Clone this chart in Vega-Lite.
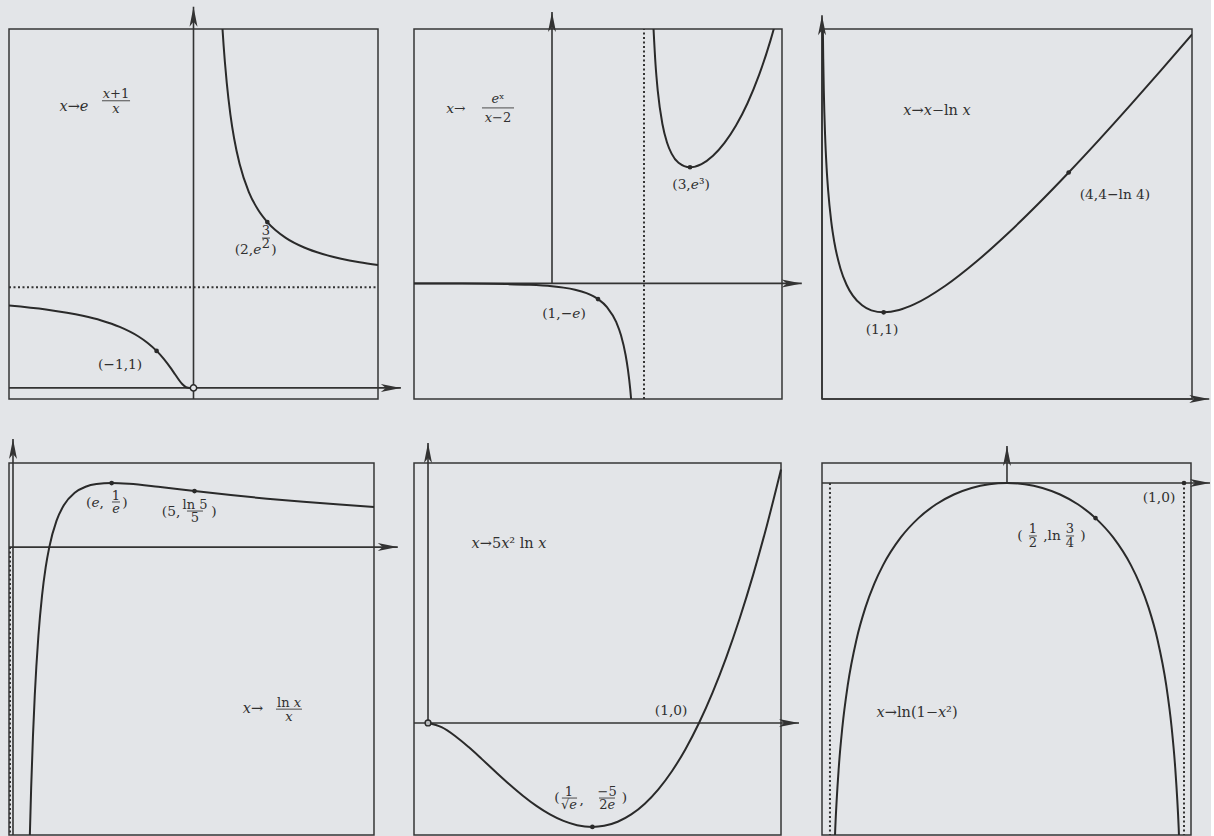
{
  "$schema": "https://vega.github.io/schema/vega-lite/v6.json",
  "background": "#e3e5e8",
  "padding": {"left": 8, "top": 5, "right": 0, "bottom": 0},
  "config": {
    "view": {"stroke": null, "fill": null},
    "text": {"font": "DejaVu Serif"}
  },
  "datasets": {
    "p1": [
      {"k": "frame", "x": -5, "x2": 5, "y": -0.3, "y2": 9.7},
      {"k": "axis", "x": 0, "y": -0.3, "x2": 0, "y2": 10.3},
      {"k": "axis", "x": -5, "y": 0, "x2": 5.62, "y2": 0},
      {"k": "asym", "x": -5, "y": 2.718, "x2": 5, "y2": 2.718},
      {"k": "arrow", "d": "up", "x": 0, "y": 10.3},
      {"k": "arrow", "d": "right", "x": 5.62, "y": 0},
      {"k": "curve", "b": 1, "x": -5, "y": 2.2255},
      {"k": "curve", "b": 1, "x": -4, "y": 2.117},
      {"k": "curve", "b": 1, "x": -3, "y": 1.9477},
      {"k": "curve", "b": 1, "x": -2.5, "y": 1.8221},
      {"k": "curve", "b": 1, "x": -2, "y": 1.6487},
      {"k": "curve", "b": 1, "x": -1.5, "y": 1.3956},
      {"k": "curve", "b": 1, "x": -1.25, "y": 1.2214},
      {"k": "curve", "b": 1, "x": -1, "y": 1},
      {"k": "curve", "b": 1, "x": -0.8, "y": 0.7788},
      {"k": "curve", "b": 1, "x": -0.6, "y": 0.5134},
      {"k": "curve", "b": 1, "x": -0.5, "y": 0.3679},
      {"k": "curve", "b": 1, "x": -0.4, "y": 0.2231},
      {"k": "curve", "b": 1, "x": -0.3, "y": 0.097},
      {"k": "curve", "b": 1, "x": -0.2, "y": 0.0183},
      {"k": "curve", "b": 1, "x": -0.1, "y": 0.0001},
      {"k": "curve", "b": 1, "x": 0, "y": 0},
      {"k": "curve", "b": 2, "x": 0.75, "y": 10.312},
      {"k": "curve", "b": 2, "x": 0.786, "y": 9.7},
      {"k": "curve", "b": 2, "x": 0.85, "y": 8.815},
      {"k": "curve", "b": 2, "x": 0.9, "y": 8.257},
      {"k": "curve", "b": 2, "x": 1, "y": 7.389},
      {"k": "curve", "b": 2, "x": 1.1, "y": 6.747},
      {"k": "curve", "b": 2, "x": 1.25, "y": 6.05},
      {"k": "curve", "b": 2, "x": 1.5, "y": 5.294},
      {"k": "curve", "b": 2, "x": 1.75, "y": 4.813},
      {"k": "curve", "b": 2, "x": 2, "y": 4.4817},
      {"k": "curve", "b": 2, "x": 2.5, "y": 4.055},
      {"k": "curve", "b": 2, "x": 3, "y": 3.7937},
      {"k": "curve", "b": 2, "x": 3.5, "y": 3.617},
      {"k": "curve", "b": 2, "x": 4, "y": 3.4903},
      {"k": "curve", "b": 2, "x": 4.5, "y": 3.3947},
      {"k": "curve", "b": 2, "x": 5, "y": 3.3201},
      {"k": "dot", "x": -1, "y": 1},
      {"k": "dot", "x": 2, "y": 4.4817},
      {"k": "open", "x": 0, "y": 0},
      {"k": "text", "r": "t", "t": "𝑥→𝑒", "x": -3.24, "y": 7.59},
      {"k": "text", "r": "s", "t": "𝑥+1", "x": -2.1, "y": 7.95},
      {"k": "bar", "x": -2.48, "x2": -1.72, "y": 7.76},
      {"k": "text", "r": "s", "t": "𝑥", "x": -2.1, "y": 7.54},
      {"k": "text", "r": "m", "t": "(−1,1)", "x": -1.99, "y": 0.62},
      {"k": "text", "r": "m", "t": "(2,𝑒", "x": 1.477, "y": 3.73},
      {"k": "text", "r": "s", "t": "3", "x": 1.965, "y": 4.23},
      {"k": "bar", "x": 1.856, "x2": 2.073, "y": 4.05},
      {"k": "text", "r": "s", "t": "2", "x": 1.965, "y": 3.88},
      {"k": "text", "r": "m", "t": ")", "x": 2.18, "y": 3.73}
    ],
    "p2": [
      {"k": "frame", "x": -3, "x2": 5, "y": -20, "y2": 44},
      {"k": "axis", "x": 0, "y": 0, "x2": 0, "y2": 46.95},
      {"k": "axis", "x": -3, "y": 0, "x2": 5.43, "y2": 0},
      {"k": "asym", "x": 2, "y": -20, "x2": 2, "y2": 44},
      {"k": "arrow", "d": "up", "x": 0, "y": 46.95},
      {"k": "arrow", "d": "right", "x": 5.43, "y": 0},
      {"k": "curve", "b": 1, "x": -3, "y": -0.00996},
      {"k": "curve", "b": 1, "x": -2, "y": -0.0338},
      {"k": "curve", "b": 1, "x": -1, "y": -0.1226},
      {"k": "curve", "b": 1, "x": -0.5, "y": -0.2426},
      {"k": "curve", "b": 1, "x": 0, "y": -0.5},
      {"k": "curve", "b": 1, "x": 0.25, "y": -0.7337},
      {"k": "curve", "b": 1, "x": 0.5, "y": -1.0991},
      {"k": "curve", "b": 1, "x": 0.75, "y": -1.6936},
      {"k": "curve", "b": 1, "x": 1, "y": -2.7183},
      {"k": "curve", "b": 1, "x": 1.2, "y": -4.15},
      {"k": "curve", "b": 1, "x": 1.4, "y": -6.759},
      {"k": "curve", "b": 1, "x": 1.5, "y": -8.963},
      {"k": "curve", "b": 1, "x": 1.6, "y": -12.383},
      {"k": "curve", "b": 1, "x": 1.65, "y": -14.877},
      {"k": "curve", "b": 1, "x": 1.7, "y": -18.246},
      {"k": "curve", "b": 1, "x": 1.75, "y": -23.02},
      {"k": "curve", "b": 2, "x": 2.2, "y": 45.13},
      {"k": "curve", "b": 2, "x": 2.25, "y": 37.95},
      {"k": "curve", "b": 2, "x": 2.3, "y": 33.25},
      {"k": "curve", "b": 2, "x": 2.4, "y": 27.56},
      {"k": "curve", "b": 2, "x": 2.5, "y": 24.365},
      {"k": "curve", "b": 2, "x": 2.6, "y": 22.44},
      {"k": "curve", "b": 2, "x": 2.75, "y": 20.857},
      {"k": "curve", "b": 2, "x": 3, "y": 20.0855},
      {"k": "curve", "b": 2, "x": 3.25, "y": 20.63},
      {"k": "curve", "b": 2, "x": 3.5, "y": 22.077},
      {"k": "curve", "b": 2, "x": 3.75, "y": 24.298},
      {"k": "curve", "b": 2, "x": 4, "y": 27.299},
      {"k": "curve", "b": 2, "x": 4.25, "y": 31.158},
      {"k": "curve", "b": 2, "x": 4.5, "y": 36.007},
      {"k": "curve", "b": 2, "x": 4.75, "y": 42.03},
      {"k": "curve", "b": 2, "x": 4.85, "y": 44.82},
      {"k": "dot", "x": 1, "y": -2.7183},
      {"k": "dot", "x": 3, "y": 20.0855},
      {"k": "text", "r": "m", "t": "𝑥→", "x": -2.087, "y": 30.17},
      {"k": "text", "r": "s", "t": "𝑒ˣ", "x": -1.174, "y": 31.9},
      {"k": "bar", "x": -1.522, "x2": -0.826, "y": 30.35},
      {"k": "text", "r": "s", "t": "𝑥−2", "x": -1.174, "y": 28.61},
      {"k": "text", "r": "m", "t": "(1,−𝑒)", "x": 0.261, "y": -5.29},
      {"k": "text", "r": "m", "t": "(3,𝑒³)", "x": 3.022, "y": 17.02}
    ],
    "p3": [
      {"k": "frame", "x": 0, "x2": 6, "y": 0, "y2": 4.27},
      {"k": "axis", "x": 0, "y": 0, "x2": 0, "y2": 4.43},
      {"k": "axis", "x": 0, "y": 0, "x2": 6.28, "y2": 0},
      {"k": "arrow", "d": "up", "x": 0, "y": 4.43},
      {"k": "arrow", "d": "right", "x": 6.28, "y": 0},
      {"k": "curve", "b": 1, "x": 0.012, "y": 4.435},
      {"k": "curve", "b": 1, "x": 0.015, "y": 4.215},
      {"k": "curve", "b": 1, "x": 0.02, "y": 3.932},
      {"k": "curve", "b": 1, "x": 0.03, "y": 3.537},
      {"k": "curve", "b": 1, "x": 0.05, "y": 3.046},
      {"k": "curve", "b": 1, "x": 0.075, "y": 2.665},
      {"k": "curve", "b": 1, "x": 0.1, "y": 2.403},
      {"k": "curve", "b": 1, "x": 0.15, "y": 2.047},
      {"k": "curve", "b": 1, "x": 0.2, "y": 1.809},
      {"k": "curve", "b": 1, "x": 0.3, "y": 1.504},
      {"k": "curve", "b": 1, "x": 0.4, "y": 1.316},
      {"k": "curve", "b": 1, "x": 0.5, "y": 1.193},
      {"k": "curve", "b": 1, "x": 0.65, "y": 1.081},
      {"k": "curve", "b": 1, "x": 0.8, "y": 1.023},
      {"k": "curve", "b": 1, "x": 1, "y": 1},
      {"k": "curve", "b": 1, "x": 1.25, "y": 1.027},
      {"k": "curve", "b": 1, "x": 1.5, "y": 1.0945},
      {"k": "curve", "b": 1, "x": 2, "y": 1.3069},
      {"k": "curve", "b": 1, "x": 2.5, "y": 1.5837},
      {"k": "curve", "b": 1, "x": 3, "y": 1.9014},
      {"k": "curve", "b": 1, "x": 3.5, "y": 2.2472},
      {"k": "curve", "b": 1, "x": 4, "y": 2.6137},
      {"k": "curve", "b": 1, "x": 4.5, "y": 2.9959},
      {"k": "curve", "b": 1, "x": 5, "y": 3.3906},
      {"k": "curve", "b": 1, "x": 5.5, "y": 3.7953},
      {"k": "curve", "b": 1, "x": 6, "y": 4.2082},
      {"k": "dot", "x": 1, "y": 1},
      {"k": "dot", "x": 4, "y": 2.6137},
      {"k": "text", "r": "t", "t": "𝑥→𝑥−ln 𝑥", "x": 1.865, "y": 3.324},
      {"k": "text", "r": "m", "t": "(1,1)", "x": 0.973, "y": 0.796},
      {"k": "text", "r": "m", "t": "(4,4−ln 4)", "x": 4.751, "y": 2.354}
    ],
    "p4": [
      {"k": "frame", "x": -0.11, "x2": 9.945, "y": -1.654, "y2": 0.483},
      {"k": "axis", "x": 0, "y": -1.654, "x2": 0, "y2": 0.621},
      {"k": "axis", "x": -0.11, "y": 0, "x2": 10.6, "y2": 0},
      {"k": "asym", "x": 0, "y": 0, "x2": 0, "y2": -1.654},
      {"k": "arrow", "d": "up", "x": 0, "y": 0.621},
      {"k": "arrow", "d": "right", "x": 10.6, "y": 0},
      {"k": "curve", "b": 1, "x": 0.44, "y": -1.866},
      {"k": "curve", "b": 1, "x": 0.46, "y": -1.688},
      {"k": "curve", "b": 1, "x": 0.5, "y": -1.386},
      {"k": "curve", "b": 1, "x": 0.55, "y": -1.087},
      {"k": "curve", "b": 1, "x": 0.6, "y": -0.851},
      {"k": "curve", "b": 1, "x": 0.7, "y": -0.5095},
      {"k": "curve", "b": 1, "x": 0.8, "y": -0.2789},
      {"k": "curve", "b": 1, "x": 0.9, "y": -0.1171},
      {"k": "curve", "b": 1, "x": 1, "y": 0},
      {"k": "curve", "b": 1, "x": 1.2, "y": 0.1519},
      {"k": "curve", "b": 1, "x": 1.4, "y": 0.2403},
      {"k": "curve", "b": 1, "x": 1.7, "y": 0.3121},
      {"k": "curve", "b": 1, "x": 2, "y": 0.3466},
      {"k": "curve", "b": 1, "x": 2.3, "y": 0.3621},
      {"k": "curve", "b": 1, "x": 2.718, "y": 0.3679},
      {"k": "curve", "b": 1, "x": 3.2, "y": 0.3635},
      {"k": "curve", "b": 1, "x": 4, "y": 0.3466},
      {"k": "curve", "b": 1, "x": 5, "y": 0.3219},
      {"k": "curve", "b": 1, "x": 6, "y": 0.2986},
      {"k": "curve", "b": 1, "x": 7, "y": 0.278},
      {"k": "curve", "b": 1, "x": 8, "y": 0.2599},
      {"k": "curve", "b": 1, "x": 9, "y": 0.2441},
      {"k": "curve", "b": 1, "x": 9.945, "y": 0.2309},
      {"k": "dot", "x": 2.718, "y": 0.3679},
      {"k": "dot", "x": 5, "y": 0.3219},
      {"k": "text", "r": "m", "t": "(𝑒,", "x": 2.259, "y": 0.253},
      {"k": "text", "r": "s", "t": "1", "x": 2.837, "y": 0.295},
      {"k": "bar", "x": 2.727, "x2": 2.948, "y": 0.259},
      {"k": "text", "r": "s", "t": "𝑒", "x": 2.837, "y": 0.22},
      {"k": "text", "r": "m", "t": ")", "x": 3.085, "y": 0.253},
      {"k": "text", "r": "m", "t": "(5,", "x": 4.353, "y": 0.201},
      {"k": "text", "r": "s", "t": "ln 5", "x": 5.014, "y": 0.243},
      {"k": "bar", "x": 4.793, "x2": 5.234, "y": 0.207},
      {"k": "text", "r": "s", "t": "5", "x": 5.014, "y": 0.168},
      {"k": "text", "r": "m", "t": ")", "x": 5.537, "y": 0.201},
      {"k": "text", "r": "t", "t": "𝑥→", "x": 6.612, "y": -0.931},
      {"k": "text", "r": "s", "t": "ln 𝑥", "x": 7.603, "y": -0.895},
      {"k": "bar", "x": 7.245, "x2": 7.961, "y": -0.931},
      {"k": "text", "r": "s", "t": "𝑥", "x": 7.603, "y": -0.977}
    ],
    "p5": [
      {"k": "frame", "x": -0.0517, "x2": 1.3026, "y": -0.991, "y2": 2.3},
      {"k": "axis", "x": 0, "y": 0, "x2": 0, "y2": 2.478},
      {"k": "axis", "x": -0.0517, "y": 0, "x2": 1.369, "y2": 0},
      {"k": "arrow", "d": "up", "x": 0, "y": 2.478},
      {"k": "arrow", "d": "right", "x": 1.369, "y": 0},
      {"k": "curve", "b": 1, "x": 0, "y": 0},
      {"k": "curve", "b": 1, "x": 0.05, "y": -0.03745},
      {"k": "curve", "b": 1, "x": 0.1, "y": -0.1151},
      {"k": "curve", "b": 1, "x": 0.15, "y": -0.2134},
      {"k": "curve", "b": 1, "x": 0.2, "y": -0.3219},
      {"k": "curve", "b": 1, "x": 0.25, "y": -0.4332},
      {"k": "curve", "b": 1, "x": 0.3, "y": -0.5418},
      {"k": "curve", "b": 1, "x": 0.35, "y": -0.643},
      {"k": "curve", "b": 1, "x": 0.4, "y": -0.733},
      {"k": "curve", "b": 1, "x": 0.45, "y": -0.8085},
      {"k": "curve", "b": 1, "x": 0.5, "y": -0.8664},
      {"k": "curve", "b": 1, "x": 0.55, "y": -0.9042},
      {"k": "curve", "b": 1, "x": 0.6065, "y": -0.9197},
      {"k": "curve", "b": 1, "x": 0.65, "y": -0.9101},
      {"k": "curve", "b": 1, "x": 0.7, "y": -0.8739},
      {"k": "curve", "b": 1, "x": 0.75, "y": -0.8091},
      {"k": "curve", "b": 1, "x": 0.8, "y": -0.714},
      {"k": "curve", "b": 1, "x": 0.85, "y": -0.5871},
      {"k": "curve", "b": 1, "x": 0.9, "y": -0.4268},
      {"k": "curve", "b": 1, "x": 0.95, "y": -0.2315},
      {"k": "curve", "b": 1, "x": 1, "y": 0},
      {"k": "curve", "b": 1, "x": 1.05, "y": 0.269},
      {"k": "curve", "b": 1, "x": 1.1, "y": 0.5766},
      {"k": "curve", "b": 1, "x": 1.15, "y": 0.9242},
      {"k": "curve", "b": 1, "x": 1.2, "y": 1.3127},
      {"k": "curve", "b": 1, "x": 1.25, "y": 1.7433},
      {"k": "curve", "b": 1, "x": 1.3026, "y": 2.2428},
      {"k": "dot", "x": 0.6065, "y": -0.9197},
      {"k": "open", "x": 0, "y": 0},
      {"k": "text", "r": "t", "t": "𝑥→5𝑥² ln 𝑥", "x": 0.299, "y": 1.584},
      {"k": "text", "r": "m", "t": "(1,0)", "x": 0.897, "y": 0.106},
      {"k": "text", "r": "m", "t": "(", "x": 0.476, "y": -0.664},
      {"k": "text", "r": "s", "t": "1", "x": 0.52, "y": -0.607},
      {"k": "bar", "x": 0.494, "x2": 0.55, "y": -0.664},
      {"k": "text", "r": "s", "t": "√𝑒", "x": 0.52, "y": -0.728},
      {"k": "text", "r": "m", "t": ",", "x": 0.567, "y": -0.681},
      {"k": "text", "r": "s", "t": "−5", "x": 0.661, "y": -0.607},
      {"k": "bar", "x": 0.631, "x2": 0.69, "y": -0.664},
      {"k": "text", "r": "s", "t": "2𝑒", "x": 0.661, "y": -0.728},
      {"k": "text", "r": "m", "t": ")", "x": 0.725, "y": -0.664}
    ],
    "p6": [
      {"k": "frame", "x": -1.045, "x2": 1.0395, "y": -2.885, "y2": 0.164},
      {"k": "axis", "x": 0, "y": 0, "x2": 0, "y2": 0.303},
      {"k": "axis", "x": -1.045, "y": 0, "x2": 1.147, "y2": 0},
      {"k": "asym", "x": -1, "y": 0, "x2": -1, "y2": -2.885},
      {"k": "asym", "x": 1, "y": 0, "x2": 1, "y2": -2.885},
      {"k": "arrow", "d": "up", "x": 0, "y": 0.303},
      {"k": "arrow", "d": "right", "x": 1.147, "y": 0},
      {"k": "curve", "b": 1, "x": -0.98, "y": -3.22893},
      {"k": "curve", "b": 1, "x": -0.97, "y": -2.82853},
      {"k": "curve", "b": 1, "x": -0.95, "y": -2.3279},
      {"k": "curve", "b": 1, "x": -0.93, "y": -2.00175},
      {"k": "curve", "b": 1, "x": -0.9, "y": -1.66073},
      {"k": "curve", "b": 1, "x": -0.85, "y": -1.28194},
      {"k": "curve", "b": 1, "x": -0.8, "y": -1.02165},
      {"k": "curve", "b": 1, "x": -0.75, "y": -0.82668},
      {"k": "curve", "b": 1, "x": -0.7, "y": -0.67334},
      {"k": "curve", "b": 1, "x": -0.6, "y": -0.44629},
      {"k": "curve", "b": 1, "x": -0.5, "y": -0.28768},
      {"k": "curve", "b": 1, "x": -0.4, "y": -0.17435},
      {"k": "curve", "b": 1, "x": -0.3, "y": -0.09431},
      {"k": "curve", "b": 1, "x": -0.2, "y": -0.04082},
      {"k": "curve", "b": 1, "x": -0.1, "y": -0.01005},
      {"k": "curve", "b": 1, "x": 0, "y": 0},
      {"k": "curve", "b": 1, "x": 0.1, "y": -0.01005},
      {"k": "curve", "b": 1, "x": 0.2, "y": -0.04082},
      {"k": "curve", "b": 1, "x": 0.3, "y": -0.09431},
      {"k": "curve", "b": 1, "x": 0.4, "y": -0.17435},
      {"k": "curve", "b": 1, "x": 0.5, "y": -0.28768},
      {"k": "curve", "b": 1, "x": 0.6, "y": -0.44629},
      {"k": "curve", "b": 1, "x": 0.7, "y": -0.67334},
      {"k": "curve", "b": 1, "x": 0.75, "y": -0.82668},
      {"k": "curve", "b": 1, "x": 0.8, "y": -1.02165},
      {"k": "curve", "b": 1, "x": 0.85, "y": -1.28194},
      {"k": "curve", "b": 1, "x": 0.9, "y": -1.66073},
      {"k": "curve", "b": 1, "x": 0.93, "y": -2.00175},
      {"k": "curve", "b": 1, "x": 0.95, "y": -2.3279},
      {"k": "curve", "b": 1, "x": 0.97, "y": -2.82853},
      {"k": "curve", "b": 1, "x": 0.98, "y": -3.22893},
      {"k": "dot", "x": 0.5, "y": -0.28768},
      {"k": "dot", "x": 1, "y": 0},
      {"k": "text", "r": "m", "t": "(1,0)", "x": 0.859, "y": -0.123},
      {"k": "text", "r": "m", "t": "(", "x": 0.073, "y": -0.434},
      {"k": "text", "r": "s", "t": "1", "x": 0.147, "y": -0.38},
      {"k": "bar", "x": 0.124, "x2": 0.169, "y": -0.434},
      {"k": "text", "r": "s", "t": "2", "x": 0.147, "y": -0.488},
      {"k": "text", "r": "m", "t": ",ln", "x": 0.254, "y": -0.434},
      {"k": "text", "r": "s", "t": "3", "x": 0.356, "y": -0.38},
      {"k": "bar", "x": 0.333, "x2": 0.379, "y": -0.434},
      {"k": "text", "r": "s", "t": "4", "x": 0.356, "y": -0.488},
      {"k": "text", "r": "m", "t": ")", "x": 0.429, "y": -0.434},
      {"k": "text", "r": "t", "t": "𝑥→ln(1−𝑥²)", "x": -0.508, "y": -1.885}
    ]
  },
  "concat": [
    {
      "width": 372, "height": 370,
      "data": {"name": "p1"},
      "encoding": {
        "x": {"field": "x", "type": "quantitative", "scale": {"domain": [-5, 5.0813], "nice": false, "zero": false}, "axis": null},
        "y": {"field": "y", "type": "quantitative", "scale": {"domain": [-0.3, 9.7], "nice": false, "zero": false}, "axis": null}
      },
      "layer": [
        {"transform": [{"filter": "datum.k == 'frame'"}], "mark": {"type": "rect", "filled": false, "stroke": "#363636", "strokeWidth": 1.5}, "encoding": {"x2": {"field": "x2"}, "y2": {"field": "y2"}}},
        {"transform": [{"filter": "datum.k == 'axis'"}], "mark": {"type": "rule", "color": "#333333", "strokeWidth": 1.6}, "encoding": {"x2": {"field": "x2"}, "y2": {"field": "y2"}}},
        {"transform": [{"filter": "datum.k == 'asym'"}], "mark": {"type": "rule", "color": "#333333", "strokeWidth": 2, "strokeDash": [2, 2.5]}, "encoding": {"x2": {"field": "x2"}, "y2": {"field": "y2"}}},
        {"transform": [{"filter": "datum.k == 'curve'"}], "mark": {"type": "line", "color": "#2a2a2a", "strokeWidth": 2, "interpolate": "monotone", "clip": true}, "encoding": {"detail": {"field": "b", "type": "nominal"}}},
        {"transform": [{"filter": "datum.k == 'bar'"}], "mark": {"type": "rule", "color": "#3a3a3a", "strokeWidth": 0.9}, "encoding": {"x2": {"field": "x2"}}},
        {"transform": [{"filter": "datum.k == 'arrow'"}], "mark": {"type": "point", "filled": true, "color": "#333333", "size": 400, "opacity": 1}, "encoding": {"shape": {"field": "d", "type": "nominal", "scale": {"domain": ["up", "right"], "range": ["M0,0L0.4,2L0,1.5L-0.4,2Z", "M0,0L-2,-0.4L-1.5,0L-2,0.4Z"]}, "legend": null}}},
        {"transform": [{"filter": "datum.k == 'dot'"}], "mark": {"type": "point", "filled": true, "color": "#2a2a2a", "size": 22, "opacity": 1}},
        {"transform": [{"filter": "datum.k == 'open'"}], "mark": {"type": "point", "filled": false, "fill": "#e3e5e8", "stroke": "#2a2a2a", "strokeWidth": 1.5, "size": 40, "opacity": 1, "fillOpacity": 1}},
        {"transform": [{"filter": "datum.k == 'text'"}], "mark": {"type": "text", "color": "#303030"}, "encoding": {"text": {"field": "t"}, "size": {"field": "r", "type": "ordinal", "scale": {"domain": ["t", "m", "s"], "range": [14.5, 13, 9.5]}, "legend": null}}}
      ]
    },
    {
      "width": 375, "height": 370,
      "data": {"name": "p2"},
      "encoding": {
        "x": {"field": "x", "type": "quantitative", "scale": {"domain": [-3, 5.1522], "nice": false, "zero": false}, "axis": null},
        "y": {"field": "y", "type": "quantitative", "scale": {"domain": [-20, 44], "nice": false, "zero": false}, "axis": null}
      },
      "layer": [
        {"transform": [{"filter": "datum.k == 'frame'"}], "mark": {"type": "rect", "filled": false, "stroke": "#363636", "strokeWidth": 1.5}, "encoding": {"x2": {"field": "x2"}, "y2": {"field": "y2"}}},
        {"transform": [{"filter": "datum.k == 'axis'"}], "mark": {"type": "rule", "color": "#333333", "strokeWidth": 1.6}, "encoding": {"x2": {"field": "x2"}, "y2": {"field": "y2"}}},
        {"transform": [{"filter": "datum.k == 'asym'"}], "mark": {"type": "rule", "color": "#333333", "strokeWidth": 2, "strokeDash": [2, 2.5]}, "encoding": {"x2": {"field": "x2"}, "y2": {"field": "y2"}}},
        {"transform": [{"filter": "datum.k == 'curve'"}], "mark": {"type": "line", "color": "#2a2a2a", "strokeWidth": 2, "interpolate": "monotone", "clip": true}, "encoding": {"detail": {"field": "b", "type": "nominal"}}},
        {"transform": [{"filter": "datum.k == 'bar'"}], "mark": {"type": "rule", "color": "#3a3a3a", "strokeWidth": 0.9}, "encoding": {"x2": {"field": "x2"}}},
        {"transform": [{"filter": "datum.k == 'arrow'"}], "mark": {"type": "point", "filled": true, "color": "#333333", "size": 400, "opacity": 1}, "encoding": {"shape": {"field": "d", "type": "nominal", "scale": {"domain": ["up", "right"], "range": ["M0,0L0.4,2L0,1.5L-0.4,2Z", "M0,0L-2,-0.4L-1.5,0L-2,0.4Z"]}, "legend": null}}},
        {"transform": [{"filter": "datum.k == 'dot'"}], "mark": {"type": "point", "filled": true, "color": "#2a2a2a", "size": 22, "opacity": 1}},
        {"transform": [{"filter": "datum.k == 'text'"}], "mark": {"type": "text", "color": "#303030"}, "encoding": {"text": {"field": "t"}, "size": {"field": "r", "type": "ordinal", "scale": {"domain": ["t", "m", "s"], "range": [14.5, 13, 9.5]}, "legend": null}}}
      ]
    },
    {
      "width": 370, "height": 370,
      "data": {"name": "p3"},
      "encoding": {
        "x": {"field": "x", "type": "quantitative", "scale": {"domain": [0, 6], "nice": false, "zero": false}, "axis": null},
        "y": {"field": "y", "type": "quantitative", "scale": {"domain": [0, 4.27], "nice": false, "zero": false}, "axis": null}
      },
      "layer": [
        {"transform": [{"filter": "datum.k == 'frame'"}], "mark": {"type": "rect", "filled": false, "stroke": "#363636", "strokeWidth": 1.5}, "encoding": {"x2": {"field": "x2"}, "y2": {"field": "y2"}}},
        {"transform": [{"filter": "datum.k == 'axis'"}], "mark": {"type": "rule", "color": "#333333", "strokeWidth": 1.6}, "encoding": {"x2": {"field": "x2"}, "y2": {"field": "y2"}}},
        {"transform": [{"filter": "datum.k == 'curve'"}], "mark": {"type": "line", "color": "#2a2a2a", "strokeWidth": 2, "interpolate": "monotone", "clip": true}, "encoding": {"detail": {"field": "b", "type": "nominal"}}},
        {"transform": [{"filter": "datum.k == 'arrow'"}], "mark": {"type": "point", "filled": true, "color": "#333333", "size": 400, "opacity": 1}, "encoding": {"shape": {"field": "d", "type": "nominal", "scale": {"domain": ["up", "right"], "range": ["M0,0L0.4,2L0,1.5L-0.4,2Z", "M0,0L-2,-0.4L-1.5,0L-2,0.4Z"]}, "legend": null}}},
        {"transform": [{"filter": "datum.k == 'dot'"}], "mark": {"type": "point", "filled": true, "color": "#2a2a2a", "size": 22, "opacity": 1}},
        {"transform": [{"filter": "datum.k == 'text'"}], "mark": {"type": "text", "color": "#303030"}, "encoding": {"text": {"field": "t"}, "size": {"field": "r", "type": "ordinal", "scale": {"domain": ["t", "m", "s"], "range": [14.5, 13, 9.5]}, "legend": null}}}
      ]
    },
    {
      "width": 372, "height": 372,
      "data": {"name": "p4"},
      "encoding": {
        "x": {"field": "x", "type": "quantitative", "scale": {"domain": [-0.11, 10.138], "nice": false, "zero": false}, "axis": null},
        "y": {"field": "y", "type": "quantitative", "scale": {"domain": [-1.654, 0.483], "nice": false, "zero": false}, "axis": null}
      },
      "layer": [
        {"transform": [{"filter": "datum.k == 'frame'"}], "mark": {"type": "rect", "filled": false, "stroke": "#363636", "strokeWidth": 1.5}, "encoding": {"x2": {"field": "x2"}, "y2": {"field": "y2"}}},
        {"transform": [{"filter": "datum.k == 'axis'"}], "mark": {"type": "rule", "color": "#333333", "strokeWidth": 1.6}, "encoding": {"x2": {"field": "x2"}, "y2": {"field": "y2"}}},
        {"transform": [{"filter": "datum.k == 'asym'"}], "mark": {"type": "rule", "color": "#333333", "strokeWidth": 2, "strokeDash": [2, 2.5], "xOffset": -3, "x2Offset": -3}, "encoding": {"x2": {"field": "x2"}, "y2": {"field": "y2"}}},
        {"transform": [{"filter": "datum.k == 'curve'"}], "mark": {"type": "line", "color": "#2a2a2a", "strokeWidth": 2, "interpolate": "monotone", "clip": true}, "encoding": {"detail": {"field": "b", "type": "nominal"}}},
        {"transform": [{"filter": "datum.k == 'bar'"}], "mark": {"type": "rule", "color": "#3a3a3a", "strokeWidth": 0.9}, "encoding": {"x2": {"field": "x2"}}},
        {"transform": [{"filter": "datum.k == 'arrow'"}], "mark": {"type": "point", "filled": true, "color": "#333333", "size": 400, "opacity": 1}, "encoding": {"shape": {"field": "d", "type": "nominal", "scale": {"domain": ["up", "right"], "range": ["M0,0L0.4,2L0,1.5L-0.4,2Z", "M0,0L-2,-0.4L-1.5,0L-2,0.4Z"]}, "legend": null}}},
        {"transform": [{"filter": "datum.k == 'dot'"}], "mark": {"type": "point", "filled": true, "color": "#2a2a2a", "size": 22, "opacity": 1}},
        {"transform": [{"filter": "datum.k == 'text'"}], "mark": {"type": "text", "color": "#303030"}, "encoding": {"text": {"field": "t"}, "size": {"field": "r", "type": "ordinal", "scale": {"domain": ["t", "m", "s"], "range": [14.5, 13, 9.5]}, "legend": null}}}
      ]
    },
    {
      "width": 375, "height": 372,
      "data": {"name": "p5"},
      "encoding": {
        "x": {"field": "x", "type": "quantitative", "scale": {"domain": [-0.0517, 1.3321], "nice": false, "zero": false}, "axis": null},
        "y": {"field": "y", "type": "quantitative", "scale": {"domain": [-0.991, 2.3], "nice": false, "zero": false}, "axis": null}
      },
      "layer": [
        {"transform": [{"filter": "datum.k == 'frame'"}], "mark": {"type": "rect", "filled": false, "stroke": "#363636", "strokeWidth": 1.5}, "encoding": {"x2": {"field": "x2"}, "y2": {"field": "y2"}}},
        {"transform": [{"filter": "datum.k == 'axis'"}], "mark": {"type": "rule", "color": "#333333", "strokeWidth": 1.6}, "encoding": {"x2": {"field": "x2"}, "y2": {"field": "y2"}}},
        {"transform": [{"filter": "datum.k == 'curve'"}], "mark": {"type": "line", "color": "#2a2a2a", "strokeWidth": 2, "interpolate": "monotone", "clip": true}, "encoding": {"detail": {"field": "b", "type": "nominal"}}},
        {"transform": [{"filter": "datum.k == 'bar'"}], "mark": {"type": "rule", "color": "#3a3a3a", "strokeWidth": 0.9}, "encoding": {"x2": {"field": "x2"}}},
        {"transform": [{"filter": "datum.k == 'arrow'"}], "mark": {"type": "point", "filled": true, "color": "#333333", "size": 400, "opacity": 1}, "encoding": {"shape": {"field": "d", "type": "nominal", "scale": {"domain": ["up", "right"], "range": ["M0,0L0.4,2L0,1.5L-0.4,2Z", "M0,0L-2,-0.4L-1.5,0L-2,0.4Z"]}, "legend": null}}},
        {"transform": [{"filter": "datum.k == 'dot'"}], "mark": {"type": "point", "filled": true, "color": "#2a2a2a", "size": 22, "opacity": 1}},
        {"transform": [{"filter": "datum.k == 'open'"}], "mark": {"type": "point", "filled": false, "fill": "#b8babd", "stroke": "#2a2a2a", "strokeWidth": 1.4, "size": 34, "opacity": 1, "fillOpacity": 1}},
        {"transform": [{"filter": "datum.k == 'text'"}], "mark": {"type": "text", "color": "#303030"}, "encoding": {"text": {"field": "t"}, "size": {"field": "r", "type": "ordinal", "scale": {"domain": ["t", "m", "s"], "range": [14.5, 13, 9.5]}, "legend": null}}}
      ]
    },
    {
      "width": 369, "height": 372,
      "data": {"name": "p6"},
      "encoding": {
        "x": {"field": "x", "type": "quantitative", "scale": {"domain": [-1.045, 1.0395], "nice": false, "zero": false}, "axis": null},
        "y": {"field": "y", "type": "quantitative", "scale": {"domain": [-2.885, 0.164], "nice": false, "zero": false}, "axis": null}
      },
      "layer": [
        {"transform": [{"filter": "datum.k == 'frame'"}], "mark": {"type": "rect", "filled": false, "stroke": "#363636", "strokeWidth": 1.5}, "encoding": {"x2": {"field": "x2"}, "y2": {"field": "y2"}}},
        {"transform": [{"filter": "datum.k == 'axis'"}], "mark": {"type": "rule", "color": "#333333", "strokeWidth": 1.6}, "encoding": {"x2": {"field": "x2"}, "y2": {"field": "y2"}}},
        {"transform": [{"filter": "datum.k == 'asym'"}], "mark": {"type": "rule", "color": "#333333", "strokeWidth": 2, "strokeDash": [2, 2.5]}, "encoding": {"x2": {"field": "x2"}, "y2": {"field": "y2"}}},
        {"transform": [{"filter": "datum.k == 'curve'"}], "mark": {"type": "line", "color": "#2a2a2a", "strokeWidth": 2, "interpolate": "monotone", "clip": true}, "encoding": {"detail": {"field": "b", "type": "nominal"}}},
        {"transform": [{"filter": "datum.k == 'bar'"}], "mark": {"type": "rule", "color": "#3a3a3a", "strokeWidth": 0.9}, "encoding": {"x2": {"field": "x2"}}},
        {"transform": [{"filter": "datum.k == 'arrow'"}], "mark": {"type": "point", "filled": true, "color": "#333333", "size": 400, "opacity": 1}, "encoding": {"shape": {"field": "d", "type": "nominal", "scale": {"domain": ["up", "right"], "range": ["M0,0L0.4,2L0,1.5L-0.4,2Z", "M0,0L-2,-0.4L-1.5,0L-2,0.4Z"]}, "legend": null}}},
        {"transform": [{"filter": "datum.k == 'dot'"}], "mark": {"type": "point", "filled": true, "color": "#2a2a2a", "size": 22, "opacity": 1}},
        {"transform": [{"filter": "datum.k == 'text'"}], "mark": {"type": "text", "color": "#303030"}, "encoding": {"text": {"field": "t"}, "size": {"field": "r", "type": "ordinal", "scale": {"domain": ["t", "m", "s"], "range": [14.5, 13, 9.5]}, "legend": null}}}
      ]
    }
  ],
  "columns": 3,
  "spacing": {"row": 64, "column": 33},
  "bounds": "flush",
  "resolve": {"scale": {"x": "independent", "y": "independent"}}
}
